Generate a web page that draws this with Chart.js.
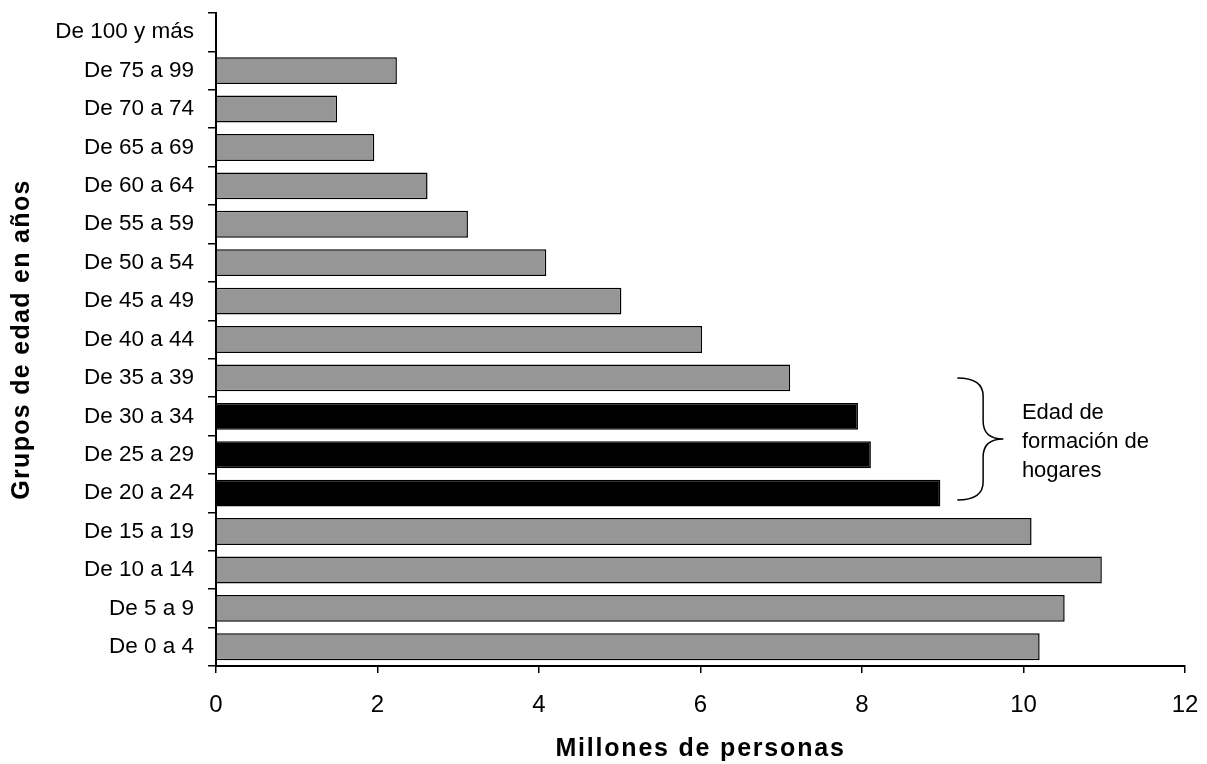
<!DOCTYPE html>
<html lang="es">
<head>
<meta charset="utf-8">
<title>Grupos de edad en años</title>
<script src="https://cdn.jsdelivr.net/npm/chart.js@4.4.1/dist/chart.umd.min.js"></script>
<style>
  html, body { margin: 0; padding: 0; background: #fff; }
  #wrap { width: 1207px; height: 764px; }
</style>
</head>
<body>
<div id="wrap"><canvas id="chart" width="1207" height="764"></canvas></div>
<script>
// grupos de edad, de arriba hacia abajo (como se ven en el gráfico)
const ageGroups = [
  "De 100 y más", "De 75 a 99", "De 70 a 74", "De 65 a 69", "De 60 a 64",
  "De 55 a 59", "De 50 a 54", "De 45 a 49", "De 40 a 44", "De 35 a 39",
  "De 30 a 34", "De 25 a 29", "De 20 a 24", "De 15 a 19", "De 10 a 14",
  "De 5 a 9", "De 0 a 4"
];
// millones de personas
const population = [
  0, 2.24, 1.50, 1.96, 2.62,
  3.12, 4.09, 5.02, 6.02, 7.11,
  7.95, 8.11, 8.97, 10.10, 10.97,
  10.51, 10.20
];
// edad de formación de hogares
const householdGroups = ["De 30 a 34", "De 25 a 29", "De 20 a 24"];
const xTicks = [0, 2, 4, 6, 8, 10, 12];
const noteLines = ["Edad de", "formación de", "hogares"];

const FONT = "'Liberation Sans', Arial, Helvetica, sans-serif";
const GRAY = "#969696";

Chart.defaults.color = "#000";
Chart.defaults.font.family = FONT;

const barColors = ageGroups.map((g) => householdGroups.includes(g) ? "#000" : GRAY);

// títulos de ejes con espaciado entre letras + llave con nota
const extras = {
  id: "extras",
  afterDraw(chart) {
    const { ctx, chartArea: area, scales: { x, y } } = chart;
    ctx.save();
    ctx.fillStyle = "#000";
    ctx.font = "bold 25px " + FONT;
    ctx.textAlign = "center";
    ctx.textBaseline = "middle";
    ctx.letterSpacing = "1.8px";
    ctx.fillText("Millones de personas", (area.left + area.right) / 2, 749);
    ctx.letterSpacing = "1.3px";
    ctx.save();
    ctx.translate(22, (area.top + area.bottom) / 2);
    ctx.rotate(-Math.PI / 2);
    ctx.fillText("Grupos de edad en años", 0, 0);
    ctx.restore();
    ctx.letterSpacing = "0px";

    // llave
    const band = y.getPixelForValue(1) - y.getPixelForValue(0);
    const top = y.getPixelForValue(ageGroups.indexOf("De 35 a 39"));
    const bottom = y.getPixelForValue(ageGroups.indexOf("De 20 a 24")) + band * 0.18;
    const mid = (top + bottom) / 2;
    const x0 = x.getPixelForValue(9.18);
    const x1 = x.getPixelForValue(9.5);
    const x2 = x.getPixelForValue(9.75);
    const r = 18;
    ctx.strokeStyle = "#000";
    ctx.lineWidth = 1.5;
    ctx.beginPath();
    ctx.moveTo(x0, top);
    ctx.quadraticCurveTo(x1, top, x1, top + r);
    ctx.lineTo(x1, mid - r);
    ctx.quadraticCurveTo(x1, mid, x2, mid);
    ctx.quadraticCurveTo(x1, mid, x1, mid + r);
    ctx.lineTo(x1, bottom - r);
    ctx.quadraticCurveTo(x1, bottom, x0, bottom);
    ctx.stroke();

    ctx.font = "22px " + FONT;
    ctx.textAlign = "left";
    ctx.textBaseline = "alphabetic";
    const tx = x.getPixelForValue(9.98);
    noteLines.forEach((line, i) => {
      ctx.fillText(line, tx, mid + 9 + (i - 1) * 28.7);
    });
    ctx.restore();
  }
};

new Chart(document.getElementById("chart").getContext("2d"), {
  type: "bar",
  data: {
    labels: ageGroups,
    datasets: [{
      data: population,
      backgroundColor: barColors,
      borderColor: "#000",
      borderWidth: 1.5,
      categoryPercentage: 1,
      barPercentage: 0.7,
    }],
  },
  options: {
    indexAxis: "y",
    responsive: false,
    animation: false,
    layout: { padding: { top: 13, right: 22, bottom: 0, left: 0 } },
    plugins: {
      legend: { display: false },
      tooltip: { enabled: false },
    },
    scales: {
      x: {
        min: 0,
        max: 12,
        afterBuildTicks: (s) => { s.ticks = xTicks.map((v) => ({ value: v })); },
        afterFit: (s) => { s.height = 98; s.paddingLeft = 0; s.paddingRight = 0; },
        ticks: { font: { size: 24 }, padding: 18, maxRotation: 0 },
        grid: { drawOnChartArea: false, drawTicks: true, tickLength: 7, color: "#000", lineWidth: 1.5 },
        border: { display: true, color: "#000", width: 2 },
      },
      y: {
        afterFit: (s) => { s.width = 216; s.paddingTop = 0; s.paddingBottom = 0; },
        ticks: { font: { size: 22.5 }, padding: 14, autoSkip: false },
        grid: { offset: true, drawOnChartArea: false, drawTicks: true, tickLength: 8, color: "#000", lineWidth: 1.5 },
        border: { display: true, color: "#000", width: 2 },
      },
    },
  },
  plugins: [extras],
});
</script>
</body>
</html>
